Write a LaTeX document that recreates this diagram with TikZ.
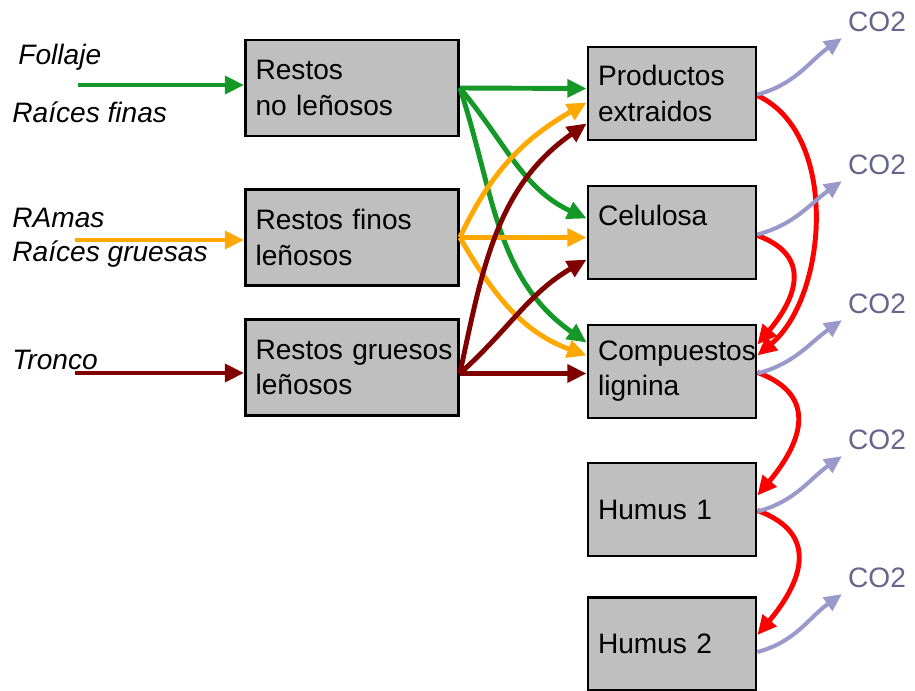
\documentclass[tikz,border=0pt]{standalone}
\usepackage{fontspec}
\setmainfont{Liberation Sans}
\usetikzlibrary{arrows.meta,calc}

\begin{document}
\begin{tikzpicture}[>={Triangle[length=11pt,width=10pt]},x=0.02cm,y=0.02cm,
	font=\fontsize{16}{20}\selectfont,
	caja/.style={draw,line width=1.6pt,fill=black!25,align=left,inner xsep=0.2cm,inner ysep=0pt},
	cajaizq/.style={caja,text width=3.86cm,minimum height=1.92cm},
	cajader/.style={caja,text width=2.96cm,minimum height=1.86cm},
	flujo/.style={->,line width=2.8pt},
	salida/.style={->,line width=2.3pt,color=lila,>={Triangle[length=10pt,width=9pt]}},
	gas/.style={color=lilatexto}]
\definecolor{verde}{rgb}{0.08,0.6,0.16}
\definecolor{naranja}{rgb}{1,0.66,0}
\definecolor{granate}{rgb}{0.5,0,0}
\definecolor{lila}{rgb}{0.6,0.6,0.8}
\definecolor{lilatexto}{rgb}{0.4,0.4,0.55}

\useasboundingbox (0,0) rectangle (915,-690);

% Cajas
\node[cajaizq] (nl) at (352,-88) {Restos\\no leñosos};
\node[cajaizq] (fl) at (352,-237.5) {Restos finos\\leñosos};
\node[cajaizq] (gl) at (352,-367.5) {\mbox{Restos gruesos}\\leñosos};

\node[cajader] (pe) at (672,-93.5) {Productos\\extraidos};
\node[cajader] (ce) at (672,-232.5) {Celulosa\\\mbox{}};
\node[cajader] (cl) at (672,-371.5) {Compuestos\\lignina};
\node[cajader] (h1) at (672,-509.5) {Humus 1};
\node[cajader] (h2) at (672,-644) {Humus 2};

% Entradas
\node (fo) at (18,-57) [right,inner sep=0pt] {\itshape Follaje};
\node (rf) at (12,-112) [right,inner sep=0pt] {\itshape Raíces finas};
\node (ra) at (12,-218) [right,inner sep=0pt] {\itshape RAmas};
\node (rg) at (12,-254) [right,inner sep=0pt] {\itshape Raíces gruesas};
\node (tr) at (12,-360) [right,inner sep=0pt] {\itshape Tronco};

\coordinate (ev) at (78,-85);
\coordinate (en) at (75,-240);
\coordinate (eg) at (75,-373);
\draw[flujo,verde] (ev) -- (ev -| nl.west);
\draw[flujo,naranja] (en) -- (en -| fl.west);
\draw[flujo,granate] (eg) -- (eg -| gl.west);

% Restos no leñosos
\draw[flujo,verde] (nl.east) -- ($(pe.west)+(0,5)$);
\draw[flujo,verde] (nl.east) to[out=-50,in=155] ($(ce.west)+(0,14)$);
\draw[flujo,verde] (nl.east) to[out=-72,in=145] ($(cl.west)+(0,29)$);

% Restos finos
\draw[flujo,naranja] (fl.east) to[out=65,in=210] ($(pe.west)+(0,-9)$);
\draw[flujo,naranja] (fl.east) -- (fl.east -| ce.west);
\draw[flujo,naranja] (fl.east) to[out=-60,in=160] ($(cl.west)+(0,16)$);

% Restos gruesos
\coordinate (gs) at ($(gl.east)+(0,-6)$);
\draw[flujo,granate] (gs) to[out=78,in=215] ($(pe.west)+(0,-30)$);
\draw[flujo,granate] (gs) to[out=42,in=210] ($(ce.west)+(0,-27)$);
\draw[flujo,granate] (gs) -- (gs -| cl.west);

% Transferencias
\draw[flujo,red] ($(pe.east)+(0,-2)$) to[out=-25,in=40,looseness=0.9] ($(cl.east)+(0,16)$);
\draw[flujo,red] ($(ce.east)+(0,-3)$) to[out=-20,in=50,looseness=1.4] ($(cl.east)+(0,27)$);
\draw[flujo,red] ($(cl.east)+(0,-1)$) to[out=-20,in=50,looseness=1.4] ($(h1.east)+(0,14)$);
\draw[flujo,red] ($(h1.east)+(0,-1)$) to[out=-20,in=50,looseness=1.4] ($(h2.east)+(0,9)$);

% CO2
\node[gas] (g1) at (877,-22) {CO2};
\node[gas] (g2) at (877,-165) {CO2};
\node[gas] (g3) at (877,-304) {CO2};
\node[gas] (g4) at (877,-440) {CO2};
\node[gas] (g5) at (877,-578) {CO2};

\draw[salida] ($(pe.east)+(0,-1)$) to[out=15,in=-145] (g1.south west);
\draw[salida] ($(ce.east)+(0,-2)$) to[out=15,in=-145] (g2.south west);
\draw[salida] ($(cl.east)+(0,-2)$) to[out=15,in=-145] (g3.south west);
\draw[salida] ($(h1.east)+(0,-2)$) to[out=15,in=-145] (g4.south west);
\draw[salida] ($(h2.east)+(0,-8)$) to[out=15,in=-145] (g5.south west);

\end{tikzpicture}
\end{document}
